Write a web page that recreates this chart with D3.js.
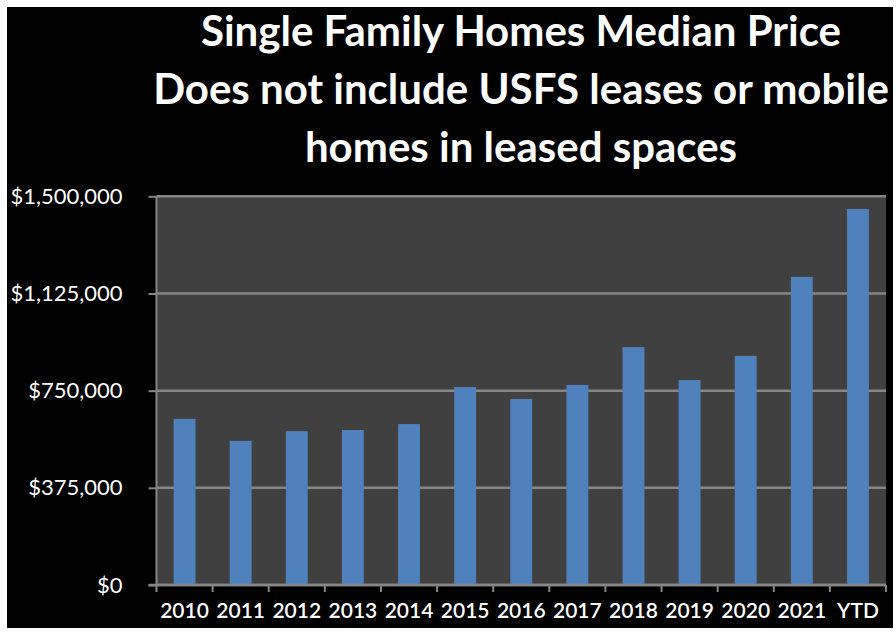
<!DOCTYPE html>
<html>
<head>
<meta charset="utf-8">
<style>
body { margin: 0; background: #fff; }
svg { display: block; }
.axis path { display: none; }
.axis line { stroke: #868686; stroke-width: 2; }
.axis text { fill: #fff; font-family: Lato, "Open Sans", sans-serif; }
.grid line { stroke: #868686; stroke-width: 2.5; }
.title { fill: #fff; font-family: Lato, "Open Sans", sans-serif; font-weight: bold; }
</style>
</head>
<body>
<script src="https://cdn.jsdelivr.net/npm/d3@7"></script>
<script>

var years = ["2010", "2011", "2012", "2013", "2014", "2015", "2016",
             "2017", "2018", "2019", "2020", "2021", "YTD"];
var prices = [641000, 556000, 594000, 598000, 621000, 764000, 718000,
              772000, 918000, 791000, 884000, 1189000, 1451000];
var yTicks = [0, 375000, 750000, 1125000, 1500000];
var titleLines = ["Single Family Homes Median Price",
                  "Does not include USFS leases or mobile",
                  "homes in leased spaces"];

var width = 896, height = 634;
var plot = {left: 156.5, right: 886, top: 196.3, bottom: 585};

var svg = d3.select("body").append("svg")
    .attr("width", width)
    .attr("height", height);

svg.append("rect")
    .attr("x", 7).attr("y", 7)
    .attr("width", 886).attr("height", 621)
    .attr("fill", "#000");

var x = d3.scaleBand()
    .domain(years)
    .range([plot.left, plot.right])
    .paddingInner(0.61)
    .paddingOuter(0.305);

var y = d3.scaleLinear()
    .domain([0, 1500000])
    .range([plot.bottom, plot.top]);

// plot background
svg.append("rect")
    .attr("x", plot.left).attr("y", plot.top)
    .attr("width", plot.right - plot.left)
    .attr("height", plot.bottom - plot.top)
    .attr("fill", "#404040");

// gridlines
svg.append("g")
    .attr("class", "grid")
    .selectAll("line")
    .data(yTicks)
    .enter().append("line")
    .attr("x1", plot.left).attr("x2", plot.right)
    .attr("y1", function(d) { return y(d); })
    .attr("y2", function(d) { return y(d); });

// bars
svg.append("g")
    .selectAll("rect")
    .data(prices)
    .enter().append("rect")
    .attr("x", function(d, i) { return x(years[i]); })
    .attr("width", x.bandwidth())
    .attr("y", function(d) { return y(d); })
    .attr("height", function(d) { return y(0) - y(d); })
    .attr("fill", "#4f81bd");

// y axis
var yAxis = d3.axisLeft(y)
    .tickValues(yTicks)
    .tickSize(8)
    .tickPadding(26)
    .tickFormat(function(d) { return "$" + d3.format(",")(d); });

svg.append("g")
    .attr("class", "axis")
    .attr("transform", "translate(" + plot.left + ",0)")
    .call(yAxis)
    .selectAll("text")
    .style("font-size", "22px");

svg.append("line")
    .attr("x1", plot.left).attr("x2", plot.left)
    .attr("y1", plot.top).attr("y2", plot.bottom)
    .attr("stroke", "#868686").attr("stroke-width", 2);

// x axis: ticks at band boundaries
var bounds = years.map(function(d) { return x(d) - x.step() * x.paddingInner() / 2; });
bounds.push(plot.right);

svg.append("g")
    .attr("class", "axis")
    .selectAll("line")
    .data(bounds)
    .enter().append("line")
    .attr("x1", function(d) { return d; })
    .attr("x2", function(d) { return d; })
    .attr("y1", plot.bottom)
    .attr("y2", plot.bottom + 7);

svg.append("line")
    .attr("x1", plot.left - 8).attr("x2", plot.right)
    .attr("y1", plot.bottom).attr("y2", plot.bottom)
    .attr("stroke", "#868686").attr("stroke-width", 2.5);

svg.append("g")
    .attr("class", "axis")
    .selectAll("text")
    .data(years)
    .enter().append("text")
    .attr("x", function(d) { return x(d) + x.bandwidth() / 2; })
    .attr("y", 618)
    .attr("text-anchor", "middle")
    .style("font-size", "21px")
    .style("font-weight", "600")
    .text(function(d) { return d; });

// title
svg.selectAll(".title")
    .data(titleLines)
    .enter().append("text")
    .attr("class", "title")
    .attr("x", 521)
    .attr("y", function(d, i) { return 46 + i * 58; })
    .attr("text-anchor", "middle")
    .style("font-size", "42px")
    .text(function(d) { return d; });

</script>
</body>
</html>
